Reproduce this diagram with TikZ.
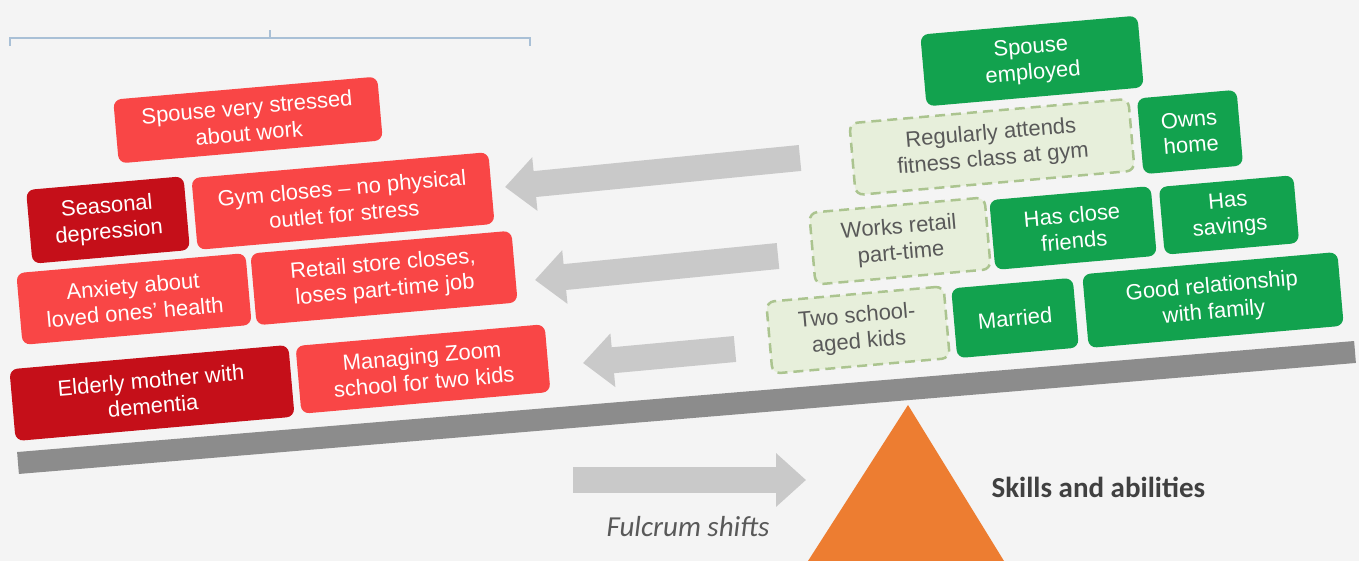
\documentclass[tikz,border=0pt]{standalone}
\usepackage{fontspec}
\setmainfont{Liberation Sans}
\newfontfamily\calibri{Carlito}
\usetikzlibrary{arrows.meta}
\definecolor{bggray}{HTML}{F4F4F4}
\definecolor{stressred}{HTML}{F94646}
\definecolor{stressdark}{HTML}{C50F19}
\definecolor{copegreen}{HTML}{12A24E}
\definecolor{lostfill}{HTML}{E7EFDB}
\definecolor{lostline}{HTML}{ABC48F}
\definecolor{beamgray}{HTML}{8C8C8C}
\definecolor{arrowgray}{HTML}{C9C9C9}
\definecolor{fulcrumorange}{HTML}{ED7D31}
\definecolor{bracketblue}{HTML}{A9C0D6}
\definecolor{labelgray}{HTML}{595959}

\begin{document}
\begin{tikzpicture}[x=1pt,y=1pt,>=Triangle,font=\fontsize{22}{26}\selectfont]
\tikzstyle{redbox}=[rectangle,fill=stressred,rounded corners=8pt,align=center,text=white,rotate=5,inner sep=0pt]
\tikzstyle{darkbox}=[redbox,fill=stressdark]
\tikzstyle{greenbox}=[redbox,fill=copegreen,text=white]
\tikzstyle{lostbox}=[redbox,fill=lostfill,draw=lostline,line width=2.5pt,dash pattern=on 10pt off 6pt,text=labelgray]
\tikzstyle{greyarrow}=[draw=arrowgray,line width=26pt,-{Triangle[width=52pt,length=30pt]}]
\useasboundingbox (0,0) rectangle (1359,561);
\fill[bggray] (0,0) rectangle (1359,561);

% bracket on top
\draw[bracketblue,line width=1.2pt] (10,515) -- (10,523) -- (530,523) -- (530,515);
\draw[bracketblue,line width=1.2pt] (270,523) -- (270,531);

% fulcrum and beam
\coordinate (apex) at (908,156);
\fill[fulcrumorange] (apex) -- (1004,0) -- (808,0) -- cycle;
\coordinate (beamleft) at (18,98);
\coordinate (beamright) at (1355,209);
\draw[beamgray,line width=22pt] (beamleft) -- (beamright);

% stressors
\node[redbox,minimum width=265pt,minimum height=64pt] (stress) at (248,441) {Spouse very stressed\\about work};
\node[darkbox,minimum width=158pt,minimum height=74pt] (seasonal) at (108,341) {Seasonal\\depression};
\node[redbox,minimum width=298pt,minimum height=72pt] (gym) at (343,360) {Gym closes – no physical\\outlet for stress};
\node[redbox,minimum width=230pt,minimum height=72pt] (anxiety) at (134,262) {Anxiety about\\loved ones’ health};
\node[redbox,minimum width=262pt,minimum height=72pt] (retail) at (384,283) {Retail store closes,\\loses part-time job};
\node[darkbox,minimum width=280pt,minimum height=72pt] (mother) at (152,168) {Elderly mother with\\dementia};
\node[redbox,minimum width=250pt,minimum height=68pt] (zoomschool) at (423,192) {Managing Zoom\\school for two kids};

% resources
\node[greenbox,minimum width=218pt,minimum height=72pt] (spouse) at (1032,500) {Spouse\\employed};
\node[lostbox,minimum width=280pt,minimum height=72pt] (fitness) at (992,414) {Regularly attends\\fitness class at gym};
\node[greenbox,minimum width=100pt,minimum height=76pt] (home) at (1190,429) {Owns\\home};
\node[lostbox,minimum width=176pt,minimum height=72pt] (worksretail) at (900,320) {Works retail\\part-time};
\node[greenbox,minimum width=162pt,minimum height=70pt] (friends) at (1073,333) {Has close\\friends};
\node[greenbox,minimum width=135pt,minimum height=68pt] (savings) at (1229,346) {Has\\savings};
\node[lostbox,minimum width=178pt,minimum height=72pt] (kids) at (858,231) {Two school-\\aged kids};
\node[greenbox,minimum width=122pt,minimum height=70pt] (married) at (1015,243) {Married};
\node[greenbox,minimum width=256pt,minimum height=74pt] (family) at (1213,261) {Good relationship\\with family};

% lost resources turn into stressors
\coordinate (from1) at (800,403); \coordinate (to1) at (505,374);
\coordinate (from2) at (778,305); \coordinate (to2) at (535,281);
\coordinate (from3) at (735,212); \coordinate (to3) at (583,198);
\draw[greyarrow] (from1) -- (to1);
\draw[greyarrow] (from2) -- (to2);
\draw[greyarrow] (from3) -- (to3);

% fulcrum shift
\coordinate (shiftfrom) at (573,81);
\coordinate (shiftto) at (806,81);
\draw[greyarrow] (shiftfrom) -- (shiftto);
\node[font=\calibri\itshape\fontsize{29}{34}\selectfont,text=labelgray] (shiftlabel) at (688,34) {Fulcrum shifts};
\node[font=\calibri\bfseries\fontsize{29}{34}\selectfont,text=black!75,anchor=west] (skills) at (988,74) {Skills and abilities};
\end{tikzpicture}
\end{document}
